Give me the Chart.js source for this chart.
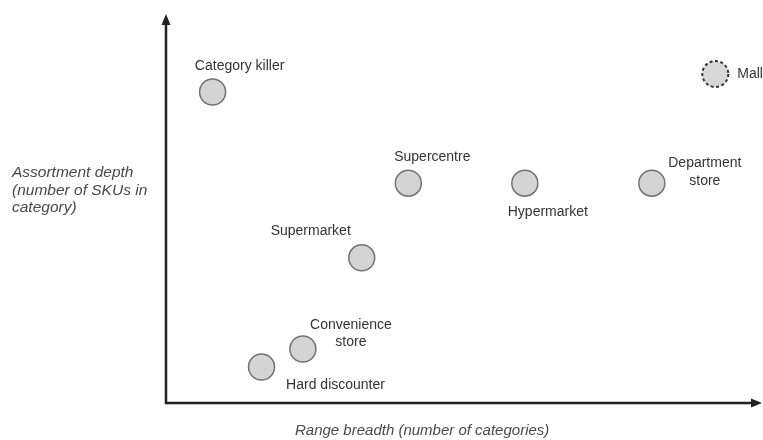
<!DOCTYPE html>
<html>
<head>
<meta charset="utf-8">
<script src="https://cdn.jsdelivr.net/npm/chart.js@4"></script>
<style>
    html, body { margin: 0; padding: 0; background: #fff; overflow: hidden; }
    #wrap { width: 763px; height: 440px; }
</style>
</head>
<body>
<div id="wrap"><canvas id="formatChart" width="763" height="440"></canvas></div>
<script>
    // --- Data (arbitrary 0-100 units) ---
    const formats = ['Category killer', 'Supercentre', 'Hypermarket', 'Department store',
                     'Supermarket', 'Convenience store', 'Hard discounter'];
    const rangeBreadth = [8.0, 41.6, 61.6, 83.4, 33.6, 23.5, 16.4];
    const assortmentDepth = [81.2, 57.4, 57.4, 57.4, 37.9, 14.1, 9.4];

    const emergingFormats = ['Mall'];
    const emergingBreadth = [94.3];
    const emergingDepth = [85.9];

    const xTitle = 'Range breadth (number of categories)';
    const yTitle = ['Assortment depth', '(number of SKUs in', 'category)'];

    // label placement relative to the point: lines, offset, alignment
    const labelLayout = {
        'Category killer':   { lines: ['Category killer'], dx: 27, dy: -26 },
        'Supercentre':       { lines: ['Supercentre'], dx: 24, dy: -26 },
        'Hypermarket':       { lines: ['Hypermarket'], dx: 23, dy: 29 },
        'Department store':  { lines: ['Department', 'store'], dx: 53, dy: -20 },
        'Supermarket':       { lines: ['Supermarket'], dx: -51, dy: -27 },
        'Convenience store': { lines: ['Convenience', 'store'], dx: 48, dy: -24 },
        'Hard discounter':   { lines: ['Hard discounter'], dx: 74, dy: 18 },
        'Mall':              { lines: ['Mall'], dx: 22, dy: 0, align: 'left' }
    };

    const FONT = '14px "Liberation Sans", Arial, sans-serif';
    const X_TITLE_FONT = 'italic 15px "Liberation Sans", Arial, sans-serif';
    const Y_TITLE_FONT = 'italic 15.5px "Liberation Sans", Arial, sans-serif';

    function toPoints(xs, ys) {
        return xs.map((x, i) => ({ x: x, y: ys[i] }));
    }

    // --- Plugins ---
    const axesArrows = {
        id: 'axesArrows',
        afterDraw(chart) {
            const ctx = chart.ctx;
            const x0 = chart.scales.x.getPixelForValue(0);
            const y0 = chart.scales.y.getPixelForValue(0);
            const topY = 14, rightX = 762;
            ctx.save();
            ctx.strokeStyle = '#222';
            ctx.fillStyle = '#222';
            ctx.lineWidth = 2.5;
            ctx.beginPath();
            ctx.moveTo(x0, topY + 8);
            ctx.lineTo(x0, y0);
            ctx.lineTo(rightX - 8, y0);
            ctx.stroke();
            // arrow heads
            ctx.beginPath();
            ctx.moveTo(x0, topY);
            ctx.lineTo(x0 - 4.5, topY + 11);
            ctx.lineTo(x0 + 4.5, topY + 11);
            ctx.closePath();
            ctx.fill();
            ctx.beginPath();
            ctx.moveTo(rightX, y0);
            ctx.lineTo(rightX - 11, y0 - 4.5);
            ctx.lineTo(rightX - 11, y0 + 4.5);
            ctx.closePath();
            ctx.fill();

            // axis titles
            ctx.fillStyle = '#4a4a4a';
            ctx.textBaseline = 'middle';
            ctx.font = X_TITLE_FONT;
            ctx.textAlign = 'left';
            ctx.fillText(xTitle, 295, 431);
            ctx.font = Y_TITLE_FONT;
            yTitle.forEach((line, i) => ctx.fillText(line, 12, 173 + i * 17.5));
            ctx.restore();
        }
    };

    const pointLabels = {
        id: 'pointLabels',
        afterDatasetsDraw(chart) {
            const ctx = chart.ctx;
            ctx.save();
            chart.data.datasets.forEach((ds, di) => {
                const meta = chart.getDatasetMeta(di);
                meta.data.forEach((el, i) => {
                    const name = ds.names[i];
                    // dashed outline for the emerging format
                    if (ds.dashed) {
                        ctx.save();
                        ctx.beginPath();
                        ctx.arc(el.x, el.y, 13, 0, Math.PI * 2);
                        ctx.fillStyle = '#d8d8d8';
                        ctx.fill();
                        ctx.setLineDash([3, 2.5]);
                        ctx.lineWidth = 2;
                        ctx.strokeStyle = '#333';
                        ctx.stroke();
                        ctx.restore();
                    }
                    const lay = labelLayout[name];
                    if (!lay) return;
                    ctx.font = FONT;
                    ctx.fillStyle = '#333';
                    ctx.textBaseline = 'middle';
                    ctx.textAlign = lay.align || 'center';
                    lay.lines.forEach((line, li) => {
                        ctx.fillText(line, el.x + lay.dx, el.y + lay.dy + li * 17.5);
                    });
                });
            });
            ctx.restore();
        }
    };

    // --- Chart ---
    const ctx = document.getElementById('formatChart').getContext('2d');
    new Chart(ctx, {
        type: 'scatter',
        data: {
            datasets: [
                {
                    names: formats,
                    data: toPoints(rangeBreadth, assortmentDepth),
                    pointRadius: 13,
                    pointHoverRadius: 13,
                    backgroundColor: '#d4d4d4',
                    borderColor: '#727272',
                    borderWidth: 1.5
                },
                {
                    names: emergingFormats,
                    dashed: true,
                    data: toPoints(emergingBreadth, emergingDepth),
                    pointRadius: 13,
                    backgroundColor: 'rgba(0,0,0,0)',
                    borderColor: 'rgba(0,0,0,0)',
                    borderWidth: 0
                }
            ]
        },
        options: {
            responsive: false,
            animation: false,
            layout: { padding: { left: 166, right: 13, top: 20, bottom: 37 } },
            plugins: { legend: { display: false }, tooltip: { enabled: false } },
            scales: {
                x: { type: 'linear', min: 0, max: 100, display: false },
                y: { type: 'linear', min: 0, max: 100, display: false }
            }
        },
        plugins: [axesArrows, pointLabels]
    });
</script>
</body>
</html>
